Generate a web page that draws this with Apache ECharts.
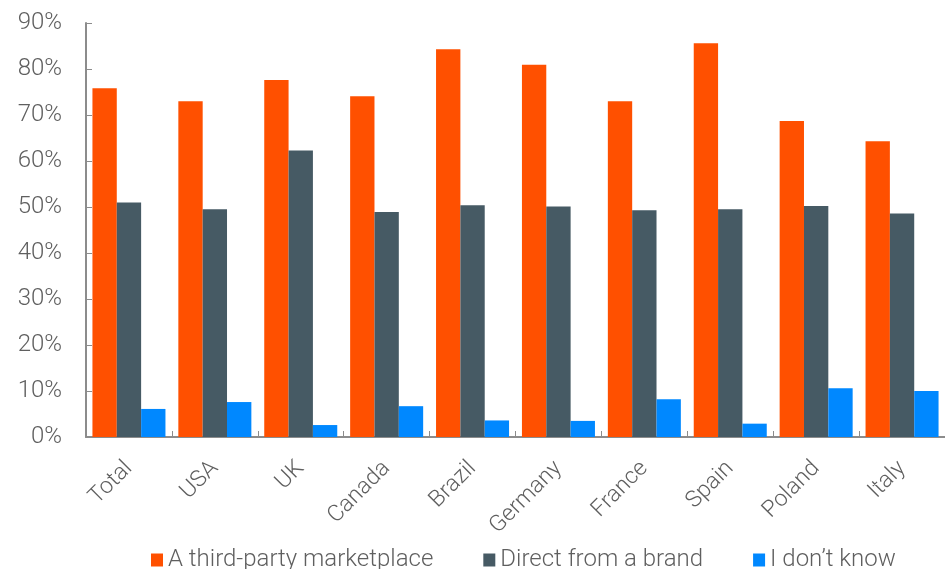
<!DOCTYPE html>
<html>
  <head>
    <meta charset="utf-8">
    <style>
      body { margin: 0; }
      #chart { width: 945px; height: 569px; }
    </style>
  </head>
  <body>
    <div id="chart"></div>
    <script src="https://cdn.jsdelivr.net/npm/echarts@6/dist/echarts.min.js"></script>
    <script>
      var countries = ["Total", "USA", "UK", "Canada", "Brazil", "Germany", "France", "Spain", "Poland", "Italy"];
      var marketplace = [75.8, 73.0, 77.6, 74.1, 84.3, 80.9, 73.0, 85.6, 68.7, 64.3];
      var directBrand = [51.0, 49.5, 62.3, 48.9, 50.4, 50.1, 49.3, 49.5, 50.2, 48.6];
      var dontKnow = [6.1, 7.6, 2.6, 6.7, 3.6, 3.5, 8.2, 2.9, 10.6, 10.0];
      var seriesNames = ["A third-party marketplace", "Direct from a brand", "I don\u2019t know"];

      var font = "Roboto, 'Noto Sans', sans-serif";
      var textColor = "#5f5f5f";

      var chart = echarts.init(document.getElementById('chart'));
      chart.setOption({
        animation: false,
        color: ["#FF5000", "#465A64", "#0088FF"],
        textStyle: { fontFamily: font },
        grid: { left: 86, right: 0, top: 23, bottom: 132, containLabel: false },
        legend: {
          bottom: -8,
          left: 146,
          icon: 'rect',
          itemWidth: 12,
          itemHeight: 13,
          itemGap: 50,
          textStyle: { fontSize: 24, color: textColor, fontFamily: font, fontWeight: 300 }
        },
        xAxis: {
          type: 'category',
          data: countries,
          axisLine: { lineStyle: { color: '#8c8c8c', width: 2 } },
          axisTick: { show: true, inside: true, length: 6, lineStyle: { color: '#8c8c8c' } },
          axisLabel: { rotate: 45, fontSize: 23, color: textColor, margin: 28, fontFamily: font, fontWeight: 300 }
        },
        yAxis: {
          type: 'value',
          min: 0,
          max: 90,
          interval: 10,
          splitLine: { show: false },
          axisLine: { show: true, lineStyle: { color: '#8c8c8c', width: 2 } },
          axisTick: { show: true, inside: true, length: 6, lineStyle: { color: '#8c8c8c' } },
          axisLabel: { formatter: '{value}%', fontSize: 24, color: textColor, margin: 24, fontFamily: font, fontWeight: 300 }
        },
        series: [
          { name: seriesNames[0], type: 'bar', data: marketplace, barGap: 0, barCategoryGap: '15%' },
          { name: seriesNames[1], type: 'bar', data: directBrand, barGap: 0, barCategoryGap: '15%' },
          { name: seriesNames[2], type: 'bar', data: dontKnow, barGap: 0, barCategoryGap: '15%' }
        ]
      });
    </script>
  </body>
</html>
